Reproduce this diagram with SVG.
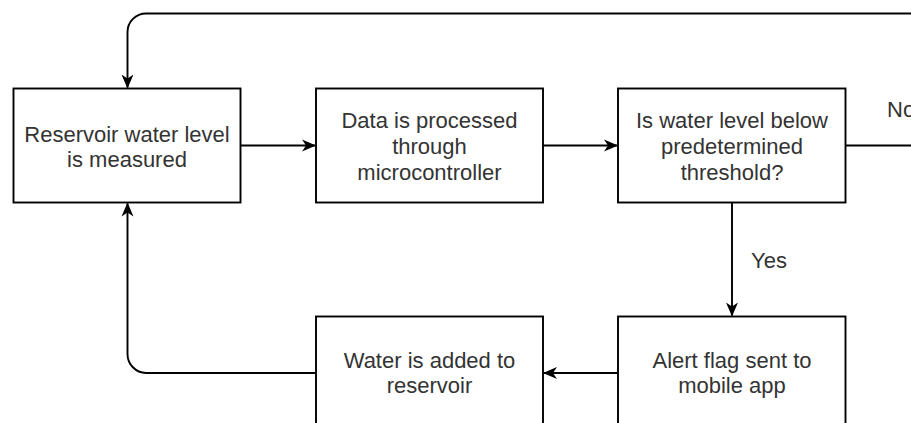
<svg xmlns="http://www.w3.org/2000/svg" width="911" height="423" viewBox="0 0 911 423">
<style>
.box{fill:#fff;stroke:#000;stroke-width:1.9}
.t{font-family:"Liberation Sans",Arial,sans-serif;font-size:22px;fill:#333;text-anchor:middle}
.e{fill:none;stroke:#000;stroke-width:1.9}
</style>
<defs>
<marker id="arr" markerUnits="userSpaceOnUse" viewBox="0 0 14 14" markerWidth="14" markerHeight="14" refX="13" refY="7" orient="auto">
<path d="M0,1 L14,7 L0,13 L4,7 Z" fill="#000"/>
</marker>
</defs>
<rect width="911" height="423" fill="#fff"/>
<g id="connectors">
<path class="e" d="M240.5,145.5 H315" marker-end="url(#arr)"/>
<path class="e" d="M543,145.5 H617" marker-end="url(#arr)"/>
<path class="e" d="M732,202.5 V315.5" marker-end="url(#arr)"/>
<path class="e" d="M618,373 H544" marker-end="url(#arr)"/>
<path class="e" d="M316,373 H146 A19,19 0 0 1 127.5,354 V203.5" marker-end="url(#arr)"/>
<path class="e" d="M845.5,145.5 H910 A18,18 0 0 0 928,127.5 V31.5 A18,18 0 0 0 910,13.5 H146 A18.5,18.5 0 0 0 127.5,32 V87.5" marker-end="url(#arr)"/>
<text class="t" x="769" y="268">Yes</text>
<text class="t" x="887" y="117" style="text-anchor:start">No</text>
</g>
<g id="n1">
<rect class="box" x="13.5" y="88.5" width="227" height="114"/>
<text class="t" x="127" y="141.5">Reservoir water level</text>
<text class="t" x="127" y="166.5">is measured</text>
</g>
<g id="n2">
<rect class="box" x="316" y="88.5" width="227" height="114"/>
<text class="t" x="429.5" y="128">Data is processed</text>
<text class="t" x="429.5" y="154">through</text>
<text class="t" x="429.5" y="180">microcontroller</text>
</g>
<g id="n3">
<rect class="box" x="618" y="88.5" width="227.5" height="114"/>
<text class="t" x="732" y="128">Is water level below</text>
<text class="t" x="732" y="154">predetermined</text>
<text class="t" x="732" y="180">threshold?</text>
</g>
<g id="n4">
<rect class="box" x="316" y="316.5" width="227" height="114"/>
<text class="t" x="429.5" y="368">Water is added to</text>
<text class="t" x="429.5" y="393">reservoir</text>
</g>
<g id="n5">
<rect class="box" x="618" y="316.5" width="227.5" height="114"/>
<text class="t" x="732" y="368">Alert flag sent to</text>
<text class="t" x="732" y="393">mobile app</text>
</g>
</svg>
